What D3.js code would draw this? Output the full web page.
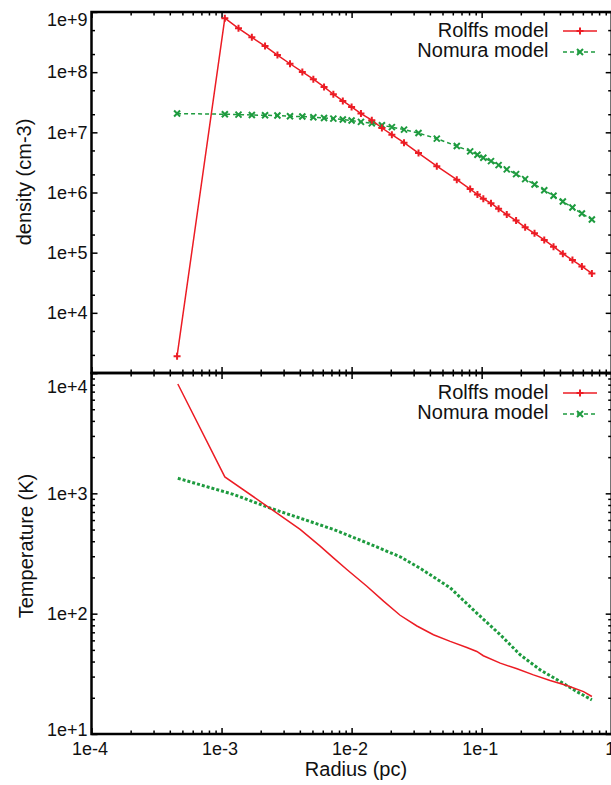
<!DOCTYPE html>
<html>
<head>
<meta charset="utf-8">
<script src="https://cdn.jsdelivr.net/npm/d3@7"></script>
<style>
  body { margin: 0; background: #fff; }
  text { font-family: "Liberation Sans", Arial, Helvetica, sans-serif; fill: #111; }
</style>
</head>
<body>
<svg id="chart" width="611" height="785"></svg>
<script>
// radius grid of the density models (pc)
var radius = [4.55e-4, 1.06e-3, 1.35e-3, 1.71e-3, 2.16e-3, 2.69e-3, 3.36e-3, 4.18e-3, 5.08e-3, 6.14e-3,
  7.24e-3, 8.56e-3, 1.00e-2, 1.18e-2, 1.43e-2, 1.71e-2, 2.04e-2, 2.53e-2, 3.27e-2, 4.52e-2,
  6.44e-2, 8.16e-2, 9.28e-2, 0.103, 0.118, 0.135, 0.156, 0.184, 0.216, 0.255,
  0.303, 0.357, 0.421, 0.499, 0.590, 0.704];

// density (cm-3)
var rolffsDensity = [1.9e3, 7.9e8, 5.35e8, 3.79e8, 2.71e8, 1.92e8, 1.38e8, 1.01e8, 7.64e7, 5.69e7,
  4.3e7, 3.32e7, 2.64e7, 2.05e7, 1.59e7, 1.18e7, 9.16e6, 6.73e6, 4.52e6, 2.74e6,
  1.63e6, 1.14e6, 9.26e5, 7.85e5, 6.64e5, 5.35e5, 4.3e5, 3.41e5, 2.64e5, 2.1e5,
  1.63e5, 1.26e5, 9.62e4, 7.55e4, 5.91e4, 4.52e4];
var nomuraDensity = [2.05e7, 2.0e7, 1.97e7, 1.94e7, 1.92e7, 1.9e7, 1.85e7, 1.83e7, 1.78e7, 1.73e7,
  1.69e7, 1.63e7, 1.57e7, 1.49e7, 1.41e7, 1.31e7, 1.22e7, 1.11e7, 9.73e6, 7.85e6,
  5.91e6, 4.82e6, 4.25e6, 3.79e6, 3.32e6, 2.85e6, 2.42e6, 2.02e6, 1.67e6, 1.36e6,
  1.09e6, 8.81e5, 7.08e5, 5.62e5, 4.47e5, 3.55e5];

// temperature (K)
var rolffsTempRadius = [4.61e-4, 1.06e-3, 2.23e-3, 4.02e-3, 5.73e-3, 7.25e-3, 9.19e-3, 1.31e-2, 1.76e-2, 2.36e-2,
  3.18e-2, 4.26e-2, 5.73e-2, 7.69e-2, 9.18e-2, 0.103, 0.139, 0.187, 0.25, 0.336, 0.452, 0.607, 0.704];
var rolffsTemp = [8.1e3, 1.37e3, 784, 501, 364, 291, 233, 169, 127, 97,
  79, 66.8, 58.8, 52.4, 48.5, 44.7, 38.8, 34.8, 31, 27.8, 25.3, 22.5, 20.5];
var nomuraTempRadius = [4.61e-4, 1.23e-3, 2.43e-3, 4.02e-3, 7.25e-3, 1.31e-2, 2.36e-2, 3.48e-2,
  5.73e-2, 9.18e-2, 0.139, 0.198, 0.282, 0.402, 0.54, 0.704];
var nomuraTemp = [1334, 981, 746, 622, 501, 388, 297, 233, 164, 101, 66.8, 45.5, 34.1, 27.3, 22.5, 19.2];

var seriesNames = ["Rolffs model", "Nomura model"];

// ticks
var xTicks = [1e-4, 1e-3, 1e-2, 1e-1, 1];
var xTickLabels = ["1e-4", "1e-3", "1e-2", "1e-1", "1"];
var densityTicks = [1e4, 1e5, 1e6, 1e7, 1e8, 1e9];
var densityTickLabels = ["1e+4", "1e+5", "1e+6", "1e+7", "1e+8", "1e+9"];
var tempTicks = [1e1, 1e2, 1e3, 1e4];
var tempTickLabels = ["1e+1", "1e+2", "1e+3", "1e+4"];

var red = "#ec1c24", green = "#1e9b3f";

var left = 91.5, right = 611.7, top1 = 12, mid = 373, bottom2 = 734;

var svg = d3.select("#chart");

var x = d3.scaleLog().domain([1e-4, 1]).range([left, right]);
var yDen = d3.scaleLog().domain([1e3, 1e9]).range([mid, top1]);
var yTemp = d3.scaleLog().domain([1e1, 1e4]).range([bottom2, mid]);

function minors(lo, hi, mults) {
  var out = [];
  for (var e = Math.round(Math.log10(lo)); e < Math.round(Math.log10(hi)); e++) {
    mults.forEach(function(m) { out.push(m * Math.pow(10, e)); });
  }
  return out;
}
var allMults = [2, 3, 4, 5, 6, 7, 8, 9];

function ticks(axisFn, scale, values, size, tx, ty) {
  var g = svg.append("g")
    .attr("transform", "translate(" + tx + "," + ty + ")")
    .call(axisFn(scale).tickValues(values).tickSize(-size).tickFormat(""));
  g.select(".domain").remove();
  g.selectAll("line").attr("stroke", "#000").attr("stroke-width", 1.5);
}

function panel(y, top, bottom, yMajors, yMinorMults, id) {
  svg.append("clipPath").attr("id", id)
    .append("rect").attr("x", left).attr("y", top)
    .attr("width", right - left).attr("height", bottom - top);

  var yMinors = minors(y.domain()[0], y.domain()[1], yMinorMults);
  var xMinors = minors(1e-4, 1, allMults);
  var yAll = y.domain()[0] == 1e3 ? [1e3].concat(yMajors) : yMajors;

  ticks(d3.axisLeft, y, yAll, 6, left, 0);
  ticks(d3.axisLeft, y, yMinors, 3.5, left, 0);
  ticks(d3.axisRight, y, yAll, 6, right, 0);
  ticks(d3.axisRight, y, yMinors, 3.5, right, 0);
  ticks(d3.axisBottom, x, xTicks, 6, 0, bottom);
  ticks(d3.axisBottom, x, xMinors, 3.5, 0, bottom);
  ticks(d3.axisTop, x, xTicks, 6, 0, top);
  ticks(d3.axisTop, x, xMinors, 3.5, 0, top);

  svg.append("rect")
    .attr("x", left).attr("y", top)
    .attr("width", right - left).attr("height", bottom - top)
    .attr("fill", "none").attr("stroke", "#000").attr("stroke-width", 2.5);

  return svg.append("g").attr("clip-path", "url(#" + id + ")");
}

function yLabels(y, values, labels, minY, maxY) {
  svg.append("g").selectAll("text").data(values).enter()
    .append("text")
    .attr("x", left - 4)
    .attr("y", function(d) { return Math.min(Math.max(y(d), minY), maxY); })
    .attr("dy", "0.35em")
    .attr("text-anchor", "end")
    .attr("font-size", 18)
    .text(function(d, i) { return labels[i]; });
}

function markers(g, xs, ys, y, kind, color) {
  var path = kind == "plus" ? "M-3.5,0H3.5M0,-3.5V3.5" : "M-3,-3L3,3M-3,3L3,-3";
  g.selectAll(null).data(xs).enter()
    .append("path")
    .attr("d", path)
    .attr("transform", function(d, i) { return "translate(" + x(d) + "," + y(ys[i]) + ")"; })
    .attr("fill", "none").attr("stroke", color).attr("stroke-width", 2);
}

function legend(rowY) {
  var styles = [
    { color: red, dash: null, kind: "plus" },
    { color: green, dash: "4,3", kind: "cross" }
  ];
  seriesNames.forEach(function(name, i) {
    var ty = rowY + i * 20;
    svg.append("text")
      .attr("x", 548.5).attr("y", ty).attr("dy", "0.35em")
      .attr("text-anchor", "end").attr("font-size", 20)
      .text(name);
    var ly = ty + 1 + i;
    svg.append("line")
      .attr("x1", 563).attr("x2", 597).attr("y1", ly).attr("y2", ly)
      .attr("stroke", styles[i].color).attr("stroke-width", 1.5)
      .attr("stroke-dasharray", styles[i].dash);
    var p = styles[i].kind == "plus" ? "M-3.5,0H3.5M0,-3.5V3.5" : "M-3,-3L3,3M-3,3L3,-3";
    svg.append("path").attr("d", p)
      .attr("transform", "translate(580," + ly + ")")
      .attr("fill", "none").attr("stroke", styles[i].color).attr("stroke-width", 2);
  });
}

// ---- top panel: density ----
var g1 = panel(yDen, top1, mid, densityTicks, [2, 5], "clipTop");

var denLine = d3.line().x(function(d) { return x(d[0]); }).y(function(d) { return yDen(d[1]); });

g1.append("path")
  .datum(d3.zip(radius, nomuraDensity))
  .attr("d", denLine)
  .attr("fill", "none").attr("stroke", green).attr("stroke-width", 1.5)
  .attr("stroke-dasharray", "4,3");
g1.append("path")
  .datum(d3.zip(radius, rolffsDensity))
  .attr("d", denLine)
  .attr("fill", "none").attr("stroke", red).attr("stroke-width", 1.5);
markers(g1, radius, nomuraDensity, yDen, "cross", green);
markers(g1, radius, rolffsDensity, yDen, "plus", red);

yLabels(yDen, densityTicks, densityTickLabels, top1 + 8, mid);
legend(30);

// ---- bottom panel: temperature ----
var g2 = panel(yTemp, mid, bottom2, tempTicks, allMults, "clipBottom");

var tempLine = d3.line().x(function(d) { return x(d[0]); }).y(function(d) { return yTemp(d[1]); });

g2.append("path")
  .datum(d3.zip(nomuraTempRadius, nomuraTemp))
  .attr("d", tempLine)
  .attr("fill", "none").attr("stroke", green).attr("stroke-width", 3)
  .attr("stroke-dasharray", "3,2");
g2.append("path")
  .datum(d3.zip(rolffsTempRadius, rolffsTemp))
  .attr("d", tempLine)
  .attr("fill", "none").attr("stroke", red).attr("stroke-width", 1.5);

yLabels(yTemp, tempTicks, tempTickLabels, mid + 13.5, bottom2 - 4);
legend(392);

// x tick labels
svg.append("g").selectAll("text").data(xTicks).enter()
  .append("text")
  .attr("x", function(d) { return x(d) - 1.5; })
  .attr("y", 755)
  .attr("text-anchor", "middle")
  .attr("font-size", 18)
  .text(function(d, i) { return xTickLabels[i]; });

// axis titles
svg.append("text")
  .attr("transform", "translate(31,182) rotate(-90)")
  .attr("text-anchor", "middle").attr("font-size", 20)
  .text("density (cm-3)");
svg.append("text")
  .attr("transform", "translate(33,546) rotate(-90)")
  .attr("text-anchor", "middle").attr("font-size", 20)
  .text("Temperature (K)");
svg.append("text")
  .attr("x", 356).attr("y", 776)
  .attr("text-anchor", "middle").attr("font-size", 20)
  .text("Radius (pc)");
</script>
</body>
</html>
